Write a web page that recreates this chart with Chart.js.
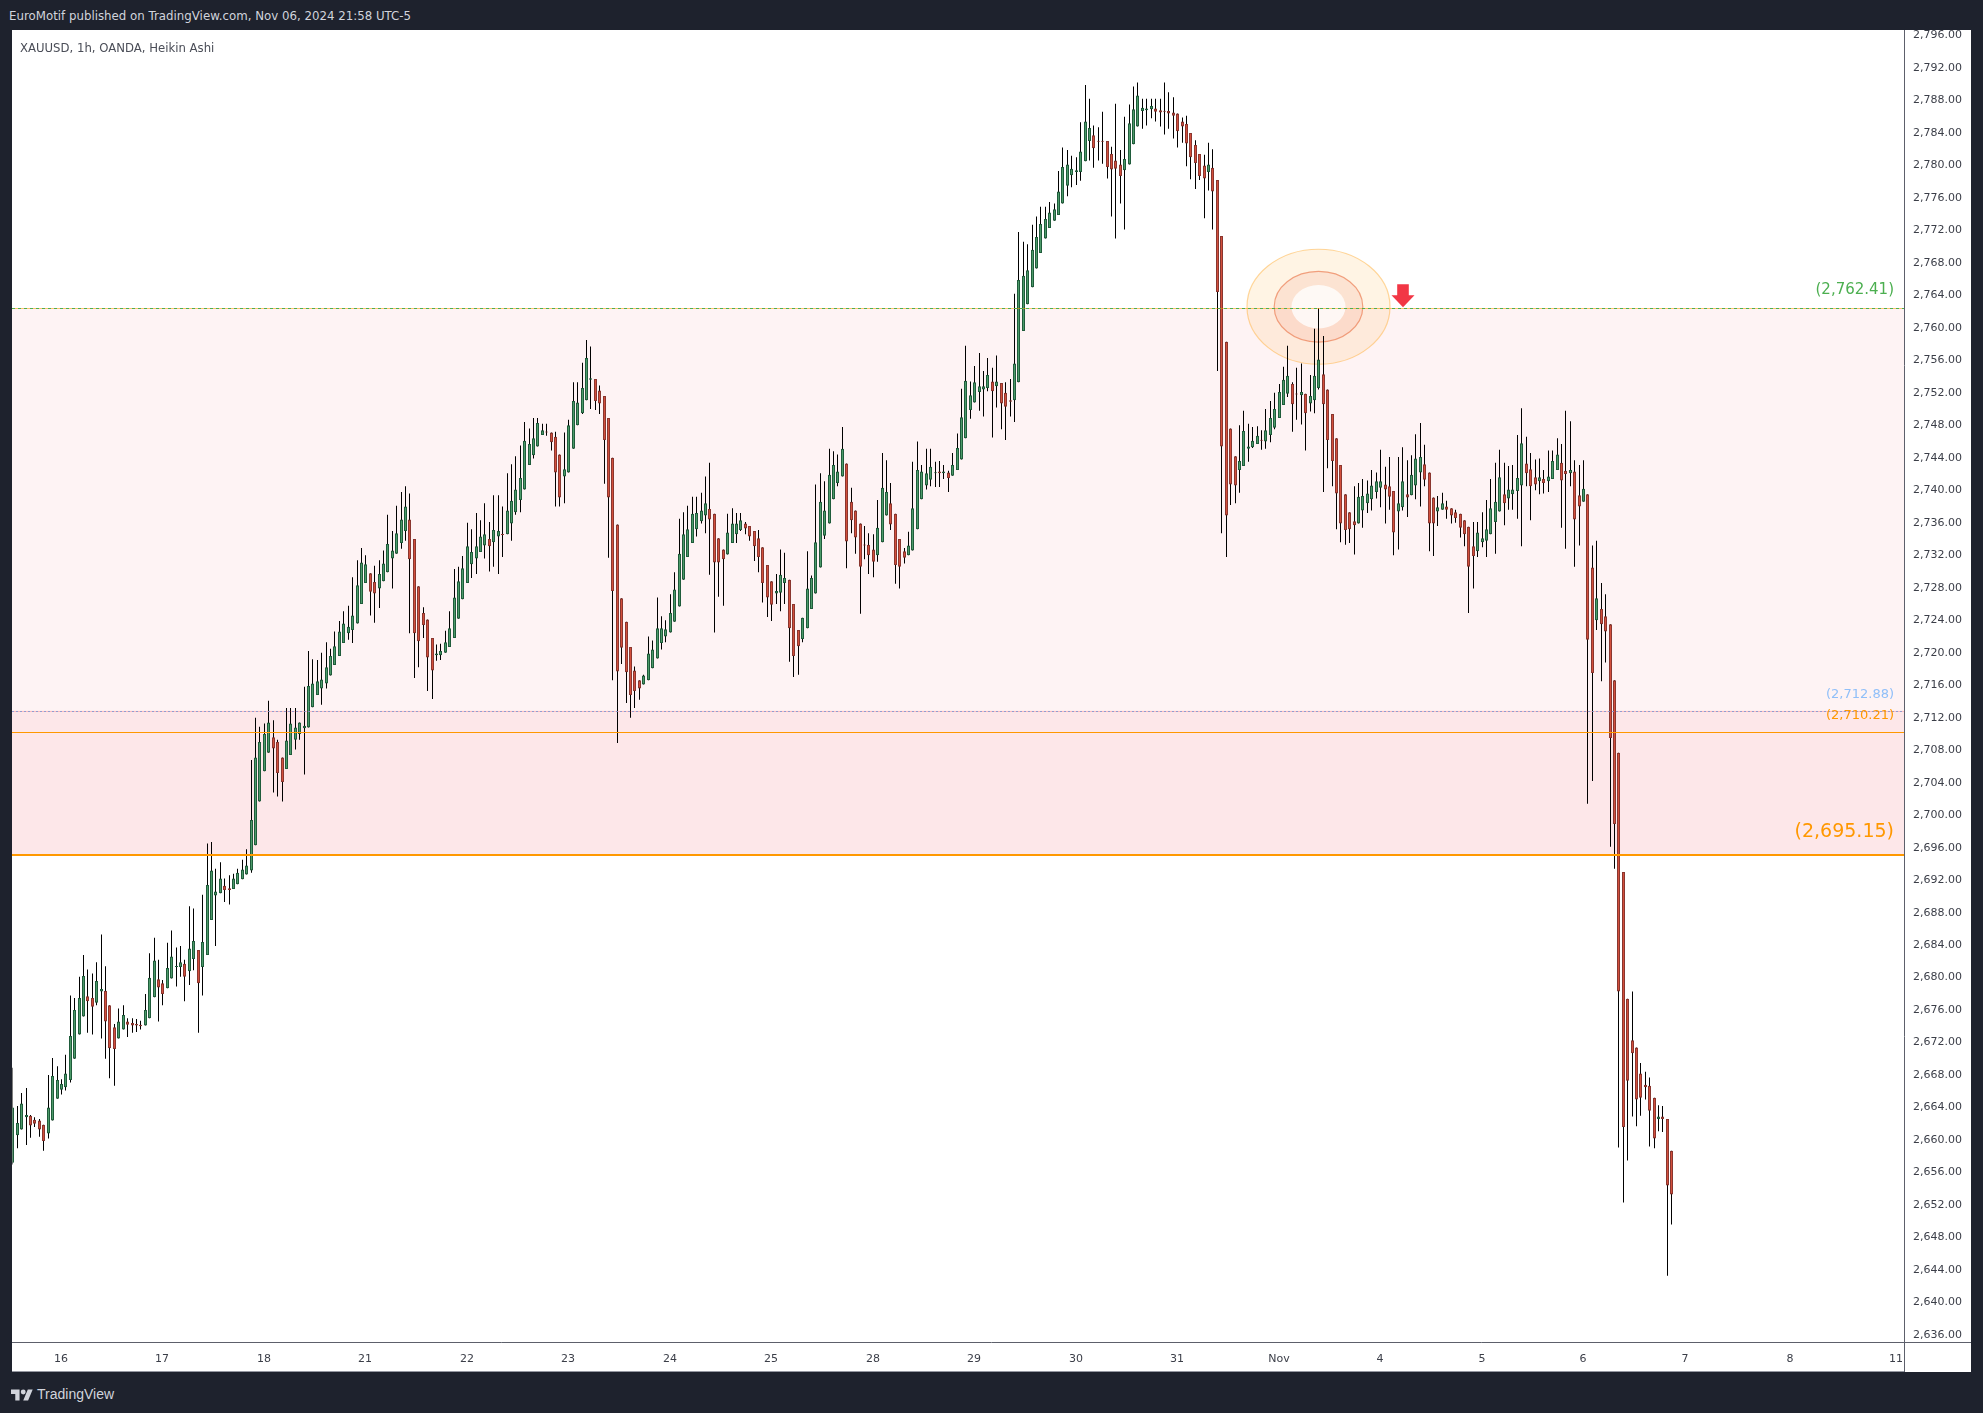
<!DOCTYPE html>
<html>
<head>
<meta charset="utf-8">
<title>XAUUSD, 1h, OANDA, Heikin Ashi</title>
<script src="https://cdn.jsdelivr.net/npm/chart.js@4.4.1/dist/chart.umd.min.js"></script>
<style>
  html, body { margin:0; padding:0; width:1983px; height:1413px; overflow:hidden; background:#1e222d; }
  body { position:relative; font-family:"DejaVu Sans", Verdana, sans-serif; }
  #pub { position:absolute; left:9px; top:9px; font-size:11.8px; line-height:14px; color:#d1d4dc; white-space:nowrap; }
  #card { position:absolute; left:12px; top:30px; width:1959px; height:1342px; background:#ffffff; }
  #cv { position:absolute; left:0; top:0; }
  #sym { position:absolute; left:8px; top:11px; font-size:11.7px; line-height:14px; color:#4a4d57; white-space:nowrap; }
  #cardline { position:absolute; left:12px; top:1371px; width:1892px; height:1px; background:#9598a1; }
  #brand { position:absolute; left:11px; top:1385px; height:18px; display:flex; align-items:center; color:#d1d4dc;
           font-family:"Liberation Sans", Arial, sans-serif; font-size:14px; }
  #brand svg { margin-right:4px; }
  #dbg { position:absolute; left:300px; top:600px; color:red; font-size:30px; }
</style>
</head>
<body>
<div id="pub">EuroMotif published on TradingView.com, Nov 06, 2024 21:58 UTC-5</div>
<div id="card">
  <canvas id="cv" width="1959" height="1342"></canvas>
  <div id="sym">XAUUSD, 1h, OANDA, Heikin Ashi</div>
</div>
<div id="cardline"></div>
<div id="brand"><svg width="22" height="15" viewBox="0 0 36 24"><path d="M14 22H7V11H0V4h14v18zM28 22h-8l7.5-18h8L28 22z" fill="#d1d4dc"/><circle cx="20" cy="8" r="4" fill="#d1d4dc"/></svg>TradingView</div>
<div id="dbg"></div>
<script>
// ---- Heikin Ashi candles (1h) ----
const O = [
2657.2,2660.6,2661.3,2662.8,2663.0,2662.5,2662.4,2661.9,2660.8,2662.4,
2665.1,2666.2,2666.5,2667.4,2670.0,2673.0,2675.2,2677.7,2677.5,2676.9,
2678.3,2678.4,2676.6,2673.9,2672.5,2673.6,2674.6,2674.4,2674.3,2674.2,
2674.1,2675.0,2677.6,2679.8,2679.3,2678.7,2679.9,2681.3,2681.3,2681.7,
2680.8,2682.3,2683.4,2681.3,2682.8,2687.1,2690.1,2690.4,2691.3,2691.0,
2690.9,2691.5,2692.1,2692.7,2693.2,2696.3,2701.7,2705.4,2707.7,2709.6,
2709.0,2707.1,2705.7,2707.4,2709.3,2710.0,2710.7,2710.8,2713.3,2714.8,
2715.6,2716.2,2717.2,2718.5,2719.6,2721.2,2722.4,2722.8,2723.6,2726.0,
2728.6,2729.8,2728.7,2727.9,2728.8,2729.9,2731.6,2732.2,2733.5,2735.0,
2736.4,2734.0,2728.2,2724.9,2724.1,2721.8,2719.7,2719.7,2720.0,2720.7,
2721.8,2724.2,2726.6,2728.6,2730.9,2731.6,2732.4,2733.2,2734.0,2733.6,
2734.3,2734.6,2734.6,2735.9,2737.3,2738.8,2740.1,2743.1,2744.3,2745.4,
2746.8,2747.2,2747.1,2746.6,2744.4,2741.7,2742.2,2745.1,2748.0,2749.5,
2751.1,2753.6,2753.7,2752.3,2751.6,2748.9,2744.0,2735.8,2726.7,2723.8,
2720.7,2717.8,2716.6,2716.1,2716.6,2718.1,2719.3,2721.2,2722.0,2722.5,
2723.8,2725.7,2729.0,2731.8,2733.5,2735.2,2736.2,2736.9,2737.7,2737.1,
2734.1,2732.7,2732.1,2733.5,2734.6,2735.1,2735.9,2735.6,2735.0,2734.1,
2733.0,2730.8,2728.8,2727.3,2727.4,2728.6,2729.0,2726.0,2722.8,2721.7,
2723.0,2725.4,2727.3,2730.5,2734.4,2735.9,2738.9,2740.9,2741.7,2743.3,
2738.6,2737.5,2735.9,2733.3,2733.3,2732.7,2732.0,2733.6,2736.9,2738.4,
2737.1,2734.0,2732.5,2732.0,2732.6,2735.2,2738.9,2740.6,2741.3,2742.1,
2742.3,2742.1,2742.2,2741.8,2742.5,2743.8,2746.4,2749.9,2750.8,2752.1,
2752.4,2752.6,2753.4,2752.8,2753.2,2752.0,2751.1,2751.1,2753.3,2759.6,
2762.9,2765.0,2767.3,2769.2,2771.0,2772.3,2773.2,2773.9,2775.3,2777.5,
2778.8,2779.2,2779.2,2780.5,2783.0,2783.7,2783.0,2783.0,2783.0,2781.4,
2780.6,2780.1,2779.4,2780.1,2782.6,2784.8,2786.7,2786.8,2786.9,2787.0,
2786.8,2786.7,2786.7,2786.5,2786.4,2785.4,2785.1,2784.0,2782.5,2781.4,
2780.0,2779.2,2779.7,2778.2,2771.3,2758.3,2747.6,2744.2,2742.5,2743.0,
2745.1,2745.3,2745.7,2746.2,2746.0,2746.8,2747.7,2748.9,2750.5,2751.9,
2753.1,2751.9,2751.7,2751.9,2750.7,2751.1,2752.6,2754.3,2752.4,2749.4,
2746.4,2743.1,2739.5,2737.3,2736.2,2735.9,2737.5,2738.4,2738.9,2739.8,
2740.3,2740.7,2740.5,2739.9,2737.4,2737.9,2739.5,2739.4,2740.6,2742.2,
2743.2,2742.2,2739.1,2737.4,2737.6,2738.0,2737.8,2737.3,2737.1,2736.3,
2735.5,2733.1,2732.5,2733.6,2733.8,2734.6,2736.1,2737.4,2739.5,2739.0,
2739.5,2739.9,2740.6,2743.3,2742.6,2741.6,2741.1,2741.4,2741.1,2741.4,
2742.5,2743.4,2742.4,2742.1,2742.3,2739.4,2738.6,2739.5,2730.5,2724.0,
2725.4,2724.5,2723.5,2716.6,2707.7,2693.0,2677.4,2672.3,2671.4,2668.2,
2666.8,2666.7,2665.2,2662.6,2662.9,2662.6,2658.7];
const H = [
2668.9,2664.2,2665.8,2666.4,2663.1,2662.8,2662.6,2661.9,2668.0,2670.1,
2669.1,2667.5,2670.5,2677.8,2677.5,2680.1,2682.8,2681.0,2680.5,2681.9,
2685.3,2681.4,2676.6,2674.3,2676.2,2676.6,2675.0,2675.0,2674.9,2674.7,
2678.0,2683.0,2684.9,2682.2,2679.7,2684.3,2685.8,2683.7,2683.9,2682.2,
2688.8,2688.5,2683.4,2690.2,2696.5,2696.7,2693.4,2694.2,2692.2,2692.6,
2692.8,2693.4,2694.5,2695.8,2706.8,2712.0,2710.9,2711.3,2714.1,2711.7,
2709.3,2707.1,2713.2,2713.2,2713.2,2711.4,2715.8,2720.2,2719.2,2719.1,
2720.0,2721.3,2720.5,2722.6,2723.9,2725.1,2725.8,2729.3,2731.4,2732.9,
2732.0,2729.8,2730.7,2731.4,2732.6,2737.0,2735.0,2738.1,2739.8,2740.5,
2739.6,2734.0,2728.2,2725.6,2724.1,2721.8,2721.0,2721.1,2722.7,2725.1,
2730.3,2730.6,2731.9,2736.0,2735.2,2737.2,2736.3,2738.4,2736.1,2739.4,
2739.4,2738.0,2742.1,2743.2,2744.2,2745.5,2748.4,2747.6,2748.9,2748.9,
2748.2,2748.2,2747.1,2747.2,2744.4,2747.1,2748.7,2753.3,2753.3,2755.7,
2758.5,2757.7,2753.7,2752.9,2751.6,2748.9,2744.0,2735.8,2726.7,2723.8,
2720.7,2718.3,2716.6,2717.3,2722.0,2721.5,2726.8,2724.5,2724.0,2727.2,
2729.9,2736.5,2737.3,2738.1,2739.2,2739.2,2739.7,2741.7,2743.4,2737.1,
2734.1,2732.7,2737.1,2737.8,2737.2,2737.2,2736.1,2735.6,2735.0,2735.1,
2733.0,2730.8,2728.8,2729.7,2732.7,2732.3,2729.0,2726.0,2722.8,2724.3,
2732.5,2729.5,2740.7,2742.1,2741.1,2745.1,2744.8,2744.4,2747.8,2743.3,
2740.3,2737.5,2735.9,2735.6,2734.7,2734.6,2738.8,2744.6,2743.7,2740.9,
2737.1,2734.0,2732.9,2734.9,2743.5,2746.0,2743.1,2745.1,2745.1,2743.5,
2743.6,2743.1,2742.4,2744.6,2747.0,2752.5,2757.8,2753.4,2755.3,2756.9,
2754.7,2756.3,2755.1,2756.6,2753.2,2753.3,2753.7,2764.2,2771.8,2770.6,
2770.3,2772.7,2773.7,2774.9,2774.9,2775.5,2775.3,2779.3,2782.2,2781.9,
2781.2,2781.0,2785.3,2789.9,2788.2,2784.9,2784.7,2786.6,2783.0,2782.3,
2787.6,2781.9,2786.0,2787.5,2789.7,2790.2,2788.2,2788.2,2788.2,2788.2,
2788.2,2790.2,2789.0,2788.4,2786.4,2785.9,2786.1,2784.0,2783.1,2781.4,
2781.3,2782.8,2782.0,2778.2,2771.3,2758.3,2747.6,2744.2,2748.0,2749.8,
2748.2,2747.8,2747.9,2747.4,2750.0,2751.0,2752.0,2753.1,2755.2,2757.8,
2753.3,2755.1,2755.6,2751.9,2754.2,2759.9,2762.4,2759.0,2752.4,2749.4,
2746.4,2743.1,2739.5,2737.3,2740.5,2740.9,2741.4,2741.2,2742.5,2742.2,
2745.0,2742.9,2744.1,2739.9,2744.1,2745.3,2743.7,2744.3,2746.9,2748.3,
2745.6,2742.2,2739.1,2739.3,2739.7,2738.7,2737.8,2737.6,2737.1,2736.3,
2735.5,2736.1,2736.1,2737.3,2738.8,2741.4,2743.4,2745.0,2743.4,2743.0,
2743.1,2746.8,2750.1,2746.6,2744.6,2743.8,2743.9,2742.5,2744.9,2744.9,
2746.4,2745.7,2749.8,2748.5,2743.7,2743.1,2743.7,2739.5,2733.2,2733.8,
2728.6,2727.2,2723.5,2716.6,2707.7,2693.0,2677.4,2678.3,2671.4,2669.5,
2668.4,2667.7,2665.2,2664.3,2664.2,2662.6,2658.7];
const L = [
2657.0,2659.0,2661.3,2659.4,2660.3,2661.6,2660.4,2658.7,2660.2,2662.4,
2665.1,2665.6,2666.1,2667.1,2670.0,2673.0,2675.2,2673.2,2673.0,2676.6,
2672.5,2670.0,2667.6,2666.7,2672.5,2673.6,2672.7,2673.2,2673.3,2673.6,
2674.1,2675.0,2677.6,2674.6,2676.6,2678.7,2679.9,2678.9,2680.1,2677.1,
2679.1,2680.9,2673.2,2677.8,2682.8,2687.1,2683.9,2690.4,2689.3,2689.0,
2690.9,2691.5,2692.1,2692.7,2692.9,2696.3,2701.7,2705.4,2707.7,2702.8,
2702.3,2701.7,2705.7,2707.4,2708.1,2709.3,2705.0,2710.8,2713.3,2714.8,
2713.6,2715.6,2717.2,2718.5,2719.6,2721.2,2721.6,2721.2,2723.6,2726.0,
2728.6,2724.6,2723.7,2725.5,2728.8,2729.9,2727.9,2732.2,2732.8,2733.8,
2722.4,2716.9,2718.2,2721.8,2715.3,2714.3,2719.0,2719.1,2720.0,2720.7,
2721.8,2724.2,2726.6,2728.6,2729.2,2729.7,2732.4,2731.6,2730.0,2730.6,
2729.7,2731.8,2734.6,2733.8,2737.0,2737.3,2740.1,2743.1,2743.9,2745.4,
2746.8,2746.7,2744.9,2738.0,2738.0,2738.4,2742.2,2745.1,2748.0,2749.4,
2751.1,2750.0,2749.9,2749.4,2740.8,2731.7,2716.6,2708.9,2718.6,2713.8,
2712.0,2713.2,2714.2,2716.1,2716.6,2718.1,2719.3,2720.4,2721.3,2722.5,
2723.8,2725.7,2729.0,2731.8,2733.5,2734.3,2735.9,2734.7,2729.6,2722.5,
2726.9,2725.8,2732.1,2733.5,2733.5,2735.0,2734.6,2733.8,2731.3,2729.9,
2726.2,2724.4,2723.9,2726.0,2725.1,2726.0,2718.9,2717.0,2717.3,2721.3,
2723.0,2725.4,2727.3,2730.5,2734.0,2735.9,2738.9,2740.5,2741.7,2730.4,
2734.7,2732.2,2724.8,2731.5,2729.7,2729.3,2731.2,2733.6,2736.9,2735.1,
2728.5,2727.9,2731.0,2732.0,2732.6,2735.2,2738.9,2740.1,2740.5,2740.4,
2740.4,2741.4,2739.8,2741.8,2742.5,2743.8,2746.4,2748.8,2750.8,2749.8,
2749.1,2752.2,2746.5,2750.2,2747.5,2746.2,2749.1,2748.4,2753.3,2759.6,
2762.9,2765.0,2767.3,2769.2,2771.0,2772.3,2773.2,2773.9,2775.3,2776.2,
2777.3,2777.6,2778.1,2780.5,2780.6,2779.7,2780.6,2780.2,2778.4,2773.7,
2771.0,2775.3,2772.1,2780.1,2782.6,2784.8,2784.5,2784.9,2785.8,2785.4,
2784.8,2783.8,2784.5,2783.3,2782.2,2782.8,2779.9,2778.3,2777.1,2778.2,
2773.5,2776.9,2772.1,2754.7,2734.7,2731.8,2738.2,2738.4,2739.7,2743.0,
2743.5,2745.2,2745.7,2745.0,2745.1,2745.9,2747.5,2748.9,2750.5,2751.5,
2747.2,2748.7,2748.1,2744.9,2749.7,2749.5,2752.4,2739.8,2742.7,2740.5,
2735.2,2733.6,2733.3,2733.5,2732.1,2735.9,2735.4,2737.2,2737.5,2739.0,
2737.9,2735.9,2737.6,2732.0,2732.7,2737.5,2736.7,2739.4,2738.9,2738.0,
2740.5,2732.5,2731.9,2735.6,2737.6,2736.5,2735.9,2736.0,2734.2,2733.1,
2724.9,2727.9,2731.8,2733.0,2731.8,2734.6,2732.2,2737.4,2735.7,2737.6,
2737.6,2736.5,2733.1,2740.5,2736.3,2740.0,2739.5,2739.6,2739.8,2741.4,
2742.5,2735.4,2732.8,2740.5,2730.6,2733.2,2738.6,2701.4,2704.2,2722.8,
2716.5,2718.8,2696.1,2693.4,2659.1,2652.3,2657.5,2662.9,2661.7,2663.0,
2665.0,2659.2,2659.0,2661.1,2661.0,2643.3,2649.6];
const C = [
2664.0,2662.1,2664.5,2663.1,2661.8,2662.0,2661.3,2659.9,2664.0,2667.9,
2667.4,2666.9,2668.2,2672.8,2676.0,2677.5,2680.2,2677.1,2676.4,2679.6,
2678.6,2674.6,2671.3,2671.2,2674.6,2675.4,2674.2,2674.1,2674.1,2674.0,
2676.0,2680.0,2682.1,2678.8,2678.0,2681.2,2682.6,2681.4,2681.9,2680.1,
2683.6,2684.5,2679.3,2684.4,2691.4,2693.2,2690.6,2692.2,2690.8,2690.8,
2692.2,2692.9,2693.3,2693.8,2699.4,2707.1,2709.0,2710.0,2711.4,2708.2,
2705.2,2704.1,2709.2,2711.3,2710.8,2711.4,2711.0,2715.9,2716.2,2716.5,
2716.7,2718.2,2719.6,2720.8,2722.6,2723.6,2723.2,2724.6,2728.3,2731.1,
2730.9,2727.5,2727.3,2729.7,2731.0,2733.4,2732.6,2734.7,2736.4,2738.0,
2731.5,2722.4,2721.4,2723.4,2719.4,2717.8,2719.9,2720.2,2721.3,2723.0,
2726.8,2728.8,2730.4,2733.1,2732.4,2733.1,2734.3,2734.6,2733.1,2735.1,
2735.0,2734.5,2737.5,2738.7,2740.1,2741.5,2746.1,2745.7,2746.4,2748.3,
2747.4,2747.1,2745.9,2742.2,2739.1,2742.6,2748.0,2751.0,2750.8,2752.6,
2756.3,2753.8,2751.0,2750.7,2746.2,2739.1,2727.6,2717.7,2720.6,2717.6,
2714.8,2715.3,2715.6,2717.2,2719.9,2720.4,2723.0,2723.0,2722.9,2724.9,
2727.8,2732.2,2734.6,2735.2,2737.1,2737.2,2737.5,2738.4,2736.4,2731.1,
2731.1,2731.5,2734.8,2735.9,2735.9,2736.3,2735.3,2734.3,2733.1,2731.8,
2728.6,2726.8,2725.9,2727.6,2729.6,2729.2,2723.0,2719.6,2720.8,2724.3,
2727.9,2729.2,2733.6,2738.6,2737.5,2741.9,2743.1,2742.3,2745.1,2733.7,
2736.3,2734.2,2730.6,2733.2,2732.0,2731.2,2735.4,2740.3,2739.8,2735.8,
2730.8,2730.6,2731.7,2733.2,2737.8,2742.5,2742.3,2742.1,2742.9,2742.2,
2742.1,2742.3,2741.5,2743.1,2745.2,2749.0,2753.5,2751.7,2753.3,2752.8,
2752.8,2754.2,2752.2,2753.4,2750.7,2750.3,2750.9,2755.6,2765.9,2766.4,
2767.1,2769.6,2771.2,2772.8,2773.4,2774.2,2774.6,2776.8,2779.8,2780.1,
2779.6,2779.4,2781.7,2785.4,2784.6,2782.1,2782.9,2782.9,2779.8,2779.5,
2779.6,2778.7,2780.8,2785.2,2786.9,2788.6,2787.1,2787.0,2787.3,2786.6,
2786.5,2786.6,2786.4,2786.1,2784.2,2784.8,2782.7,2781.0,2780.3,2778.7,
2778.4,2780.1,2776.8,2764.4,2745.4,2736.9,2740.7,2740.6,2743.6,2747.3,
2745.4,2746.1,2746.7,2746.1,2747.4,2748.9,2750.0,2752.1,2753.6,2754.1,
2750.6,2751.8,2752.1,2749.5,2751.6,2754.1,2756.1,2750.6,2746.2,2743.6,
2739.6,2735.9,2735.1,2735.2,2735.7,2739.2,2739.3,2739.6,2740.6,2741.1,
2741.1,2740.1,2739.2,2734.8,2738.4,2741.1,2739.1,2741.9,2743.9,2744.1,
2741.3,2735.9,2735.9,2737.9,2738.4,2737.6,2736.9,2736.6,2735.4,2734.6,
2730.6,2731.9,2734.8,2734.1,2735.2,2737.8,2738.6,2741.6,2738.4,2740.1,
2740.1,2741.5,2745.8,2742.1,2740.5,2740.7,2741.6,2740.9,2741.7,2743.6,
2744.4,2741.2,2742.0,2742.5,2736.4,2738.0,2740.2,2721.6,2717.5,2726.7,
2723.5,2722.6,2709.5,2698.9,2678.3,2661.6,2667.3,2670.7,2665.0,2665.2,
2666.5,2663.6,2660.2,2662.9,2662.6,2654.4,2653.3];

// ---- axes ----
const dayLabels = ['16','17','18','21','22','23','24','25','28','29','30','31','Nov','4','5','6','7','8','11'];
const dayIndex  = [11,34,57,80,103,126,149,172,195,218,241,264,287,310,333,356,379,403,427];
const yTicks = [2636,2640,2644,2648,2652,2656,2660,2664,2668,2672,2676,2680,2684,2688,2692,2696,2700,
                2704,2708,2712,2716,2720,2724,2728,2732,2736,2740,2744,2748,2752,2756,2760,2764,2768,
                2772,2776,2780,2784,2788,2792,2796];

// ---- drawings ----
const levels = [2762.41, 2712.88, 2710.21, 2695.15];
const zoneTop = [2762.41, 2712.88];
const zoneBottom = [2695.15, 2695.15];
const markCandle = 296, markPrice = 2762.6;   // circled high
const arrowCandle = 315.1;                    // red down arrow on the 2,762.41 line

const n = O.length;
if ([H.length, L.length, C.length].some(v => v !== n)) {
  document.getElementById('dbg').textContent = 'len ' + [n, H.length, L.length, C.length].join(',');
}

const idx = O.map((_, i) => i);
const up = O.map((o, i) => C[i] >= o);
const UP_FILL = '#4c9a69', UP_LINE = '#1f5c3b', DN_FILL = '#d24f3c', DN_LINE = '#8a362f';
const fmt = v => v.toLocaleString('en-US', {minimumFractionDigits: 2, maximumFractionDigits: 2});

const fontFam = '"DejaVu Sans", Verdana, sans-serif';

const overlay = {
  id: 'overlay',
  beforeDatasetsDraw(chart) {
    const {ctx, chartArea: a, scales: {x, y}} = chart;
    ctx.save();
    ctx.beginPath(); ctx.rect(a.left, a.top, a.right - a.left, a.bottom - a.top); ctx.clip();
    for (let k = 0; k < zoneTop.length; k++) {
      const y1 = y.getPixelForValue(zoneTop[k]), y2 = y.getPixelForValue(zoneBottom[k]);
      ctx.fillStyle = 'rgba(242,54,69,0.06)';
      ctx.fillRect(a.left, y1, a.right - a.left, y2 - y1);
    }
    const cx = x.getPixelForValue(markCandle) + 0.5, cy = y.getPixelForValue(markPrice);
    const ell = (rx, ry, fill, stroke) => {
      ctx.beginPath(); ctx.ellipse(cx, cy, rx, ry, 0, 0, Math.PI * 2);
      ctx.fillStyle = fill; ctx.fill();
      if (stroke) { ctx.lineWidth = 1.2; ctx.strokeStyle = stroke; ctx.stroke(); }
    };
    ell(71.5, 57.5, 'rgba(255,183,77,0.15)', 'rgba(255,183,77,0.55)');
    ell(44.3, 35.3, 'rgba(230,110,80,0.12)', 'rgba(236,132,92,0.75)');
    ell(27, 21.7, 'rgba(255,255,255,0.8)', null);
    ctx.restore();
  },
  beforeDatasetDraw(chart) { chart.ctx.save(); chart.ctx.translate(0.5, 0); },
  afterDatasetDraw(chart) { chart.ctx.restore(); },
  afterDatasetsDraw(chart) {
    const {ctx, chartArea: a, scales: {x, y}} = chart;
    ctx.save();
    const py = v => Math.round(y.getPixelForValue(v)) + 0.5;
    const hline = (yy) => { ctx.beginPath(); ctx.moveTo(a.left, yy); ctx.lineTo(a.right, yy); ctx.stroke(); };
    ctx.lineWidth = 1;
    // 2762.41
    ctx.strokeStyle = 'rgba(255,152,0,0.55)'; hline(py(levels[0]));
    ctx.setLineDash([3, 3]); ctx.strokeStyle = '#4caf50'; hline(py(levels[0])); ctx.setLineDash([]);
    // 2712.88
    ctx.strokeStyle = 'rgba(242,54,69,0.25)'; hline(py(levels[1]));
    ctx.setLineDash([2, 2]); ctx.strokeStyle = 'rgba(120,150,210,0.8)'; hline(py(levels[1])); ctx.setLineDash([]);
    // 2710.21
    ctx.strokeStyle = '#ff9800'; hline(py(levels[2]));
    // 2695.15
    ctx.lineWidth = 2; hline(Math.round(y.getPixelForValue(levels[3])));
    // labels
    const st = [{c: '#4caf50', s: 15, off: 18}, {c: '#90bff9', s: 13, off: 15.5}, {c: '#ff9800', s: 13, off: 16.5}, {c: '#ff9800', s: 19, off: 22.5}];
    ctx.textAlign = 'right'; ctx.textBaseline = 'middle';
    levels.forEach((v, k) => {
      ctx.font = st[k].s + 'px ' + fontFam; ctx.fillStyle = st[k].c;
      ctx.fillText('(' + fmt(v) + ')', a.right - 10, y.getPixelForValue(v) - st[k].off);
    });
    // arrow
    const ax = x.getPixelForValue(arrowCandle), ay = y.getPixelForValue(levels[0]) - 1;
    ctx.fillStyle = '#f23645';
    ctx.beginPath();
    ctx.moveTo(ax - 5.8, ay - 23); ctx.lineTo(ax + 5.8, ay - 23); ctx.lineTo(ax + 5.8, ay - 12);
    ctx.lineTo(ax + 11.5, ay - 12); ctx.lineTo(ax, ay); ctx.lineTo(ax - 11.5, ay - 12);
    ctx.lineTo(ax - 5.8, ay - 12); ctx.closePath(); ctx.fill();
    ctx.restore();
  },
  afterDraw(chart) {
    const {ctx, chartArea: a} = chart;
    ctx.save();
    ctx.strokeStyle = '#5d606b'; ctx.lineWidth = 1;
    ctx.beginPath();
    ctx.moveTo(0, a.bottom + 0.5); ctx.lineTo(chart.width, a.bottom + 0.5);
    ctx.moveTo(a.right + 0.5, 0); ctx.lineTo(a.right + 0.5, chart.height);
    ctx.stroke();
    ctx.restore();
  }
};

new Chart(document.getElementById('cv'), {
  type: 'bar',
  data: {
    datasets: [
      {
        label: 'body',
        data: idx.map(i => ({x: i, y: [O[i], C[i]]})),
        backgroundColor: up.map(u => u ? UP_FILL : DN_FILL),
        borderColor: up.map(u => u ? UP_LINE : DN_LINE),
        borderWidth: 1, borderSkipped: false, inflateAmount: 0,
        barThickness: 3, minBarLength: 1, grouped: false, order: 1
      },
      {
        label: 'wick',
        data: idx.map(i => ({x: i, y: [L[i], H[i]]})),
        backgroundColor: '#000000', borderWidth: 0, inflateAmount: 0,
        barThickness: 1, grouped: false, order: 2
      }
    ]
  },
  options: {
    responsive: false, animation: false, devicePixelRatio: 1, events: [],
    layout: {padding: 0, autoPadding: false},
    plugins: {legend: {display: false}, tooltip: {enabled: false}},
    scales: {
      x: {
        type: 'linear', offset: false, alignToPixels: true,
        min: -0.0907, max: 428.74,
        grid: {display: false, drawTicks: false}, border: {display: false},
        afterBuildTicks: s => { s.ticks = dayIndex.map(v => ({value: v})); },
        afterFit: s => { s.height = 30; s.paddingLeft = 0; s.paddingRight = 0; },
        ticks: {
          autoSkip: false, maxRotation: 0, minRotation: 0, padding: 11,
          color: '#3b3e48', font: {family: fontFam, size: 11},
          callback: v => { const k = dayIndex.indexOf(v); return k >= 0 ? dayLabels[k] : ''; }
        }
      },
      y: {
        type: 'linear', position: 'right',
        min: 2635.14, max: 2796.67,
        grid: {display: false, drawTicks: false}, border: {display: false},
        afterBuildTicks: s => { s.ticks = yTicks.map(v => ({value: v})); },
        afterFit: s => { s.width = 67; s.paddingTop = 0; s.paddingBottom = 0; },
        ticks: {
          padding: 9, color: '#3b3e48', font: {family: fontFam, size: 11},
          callback: v => fmt(v)
        }
      }
    }
  },
  plugins: [overlay]
});
</script>
</body>
</html>
